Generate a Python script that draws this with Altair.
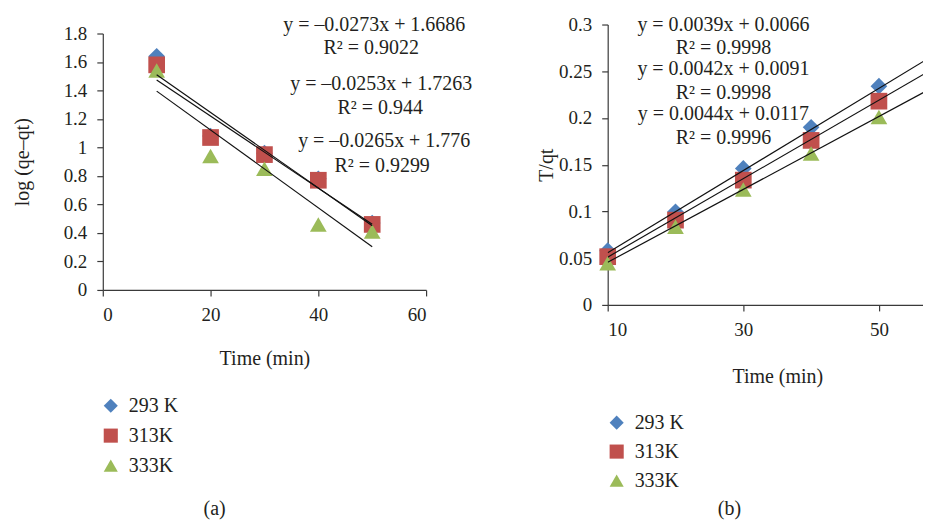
import altair as alt
import pandas as pd

# ---------------- data ----------------
time = [10, 20, 30, 40, 50]
series = ["293 K", "313K", "333K"]
colors = ["#4F81BD", "#C0504D", "#9BBB59"]
shapes = ["diamond", "square", "triangle-up"]

# (a) pseudo-first-order: log(qe-qt)
a_293 = [1.64, 1.08, 0.96, 0.78, 0.47]
a_313 = [1.58, 1.07, 0.95, 0.77, 0.46]
a_333 = [1.54, 0.94, 0.85, 0.46, 0.41]

# (b) pseudo-second-order: T/qt
b_293 = [0.058, 0.0996, 0.146, 0.190, 0.234]
b_313 = [0.0516, 0.0907, 0.1335, 0.176, 0.218]
b_333 = [0.0445, 0.0836, 0.1235, 0.162, 0.201]

# trendline coefficients (as printed)
a_slope = [-0.0265, -0.0253, -0.0273]
a_icpt = [1.776, 1.7263, 1.6686]
b_slope = [0.0044, 0.0042, 0.0039]
b_icpt = [0.0117, 0.0091, 0.0066]
a_line_x = [10, 50]
b_line_x = [10, 60]

a_eq = ["y = –0.0273x + 1.6686", "R² = 0.9022",
        "y = –0.0253x + 1.7263", "R² = 0.944",
        "y = –0.0265x + 1.776", "R² = 0.9299"]
b_eq = ["y = 0.0039x + 0.0066", "R² = 0.9998",
        "y = 0.0042x + 0.0091", "R² = 0.9998",
        "y = 0.0044x + 0.0117", "R² = 0.9996"]

a_ticks_x = [0, 20, 40, 60]
a_ticks_y = [0, 0.2, 0.4, 0.6, 0.8, 1, 1.2, 1.4, 1.6, 1.8]
b_ticks_x = [10, 30, 50]
b_ticks_y = [0, 0.05, 0.1, 0.15, 0.2, 0.25, 0.3]

# ---------------- layout (pixels) ----------------
FONT = "Liberation Serif"
TXT = "#231f20"
A_W, A_H, A_TOP = 324, 266, 9      # left plot drawn from y=9 to y=266 of its panel
B_W, B_H = 316, 281
a_eq_pos = [(272, 6), (269, 30), (279, 66), (278, 90), (282, 123), (280, 148)]
b_eq_pos = [(116, 6), (116, 30), (116, 51), (116, 75), (116, 96), (116, 120)]


def points_df(vals):
    rows = []
    for s, v in zip(series, vals):
        for t, y in zip(time, v):
            rows.append({"time": t, "value": y, "series": s})
    return pd.DataFrame(rows)


def lines_df(slopes, icpts, xs):
    rows = []
    for s, m, b in zip(series, slopes, icpts):
        for x in xs:
            rows.append({"time": x, "slope": m, "icpt": b, "series": s})
    return pd.DataFrame(rows)


def legend(lx, ly, rp):
    return alt.Legend(orient="none", legendX=lx, legendY=ly, title=None,
                      labelFont=FONT, labelFontSize=20, labelColor=TXT,
                      symbolSize=200, rowPadding=rp, labelOffset=8,
                      symbolStrokeWidth=0, symbolOpacity=1, padding=0)


def texts(lines, pos):
    out = []
    for t, (px, py) in zip(lines, pos):
        out.append(
            alt.Chart(pd.DataFrame({"t": [t]}))
            .mark_text(font=FONT, fontSize=20, color=TXT, align="center",
                       baseline="alphabetic")
            .encode(x=alt.value(px), y=alt.value(py), text="t:N")
        )
    return out


def panel(vals, slopes, icpts, line_x, xscale, yscale, xaxis, yaxis, w, h,
          leg, eqs, eq_pos, tag, tag_pos):
    x_enc = alt.X("time:Q", scale=xscale, axis=xaxis)
    y_enc = alt.Y("value:Q", scale=yscale, axis=yaxis)
    pts = alt.Chart(points_df(vals)).mark_point(
        filled=True, opacity=1, size=280, strokeWidth=0
    ).encode(
        x=x_enc, y=y_enc,
        color=alt.Color("series:N", scale=alt.Scale(domain=series, range=colors),
                        legend=leg),
        shape=alt.Shape("series:N", scale=alt.Scale(domain=series, range=shapes),
                        legend=leg),
    )
    lns = alt.Chart(lines_df(slopes, icpts, line_x)).transform_calculate(
        value="datum.slope * datum.time + datum.icpt"
    ).mark_line(color="#111111", strokeWidth=1.2, clip=True).encode(
        x=x_enc, y=y_enc, detail="series:N"
    )
    tag_txt = alt.Chart(pd.DataFrame({"t": [tag]})).mark_text(
        font=FONT, fontSize=20, color=TXT, align="center", baseline="middle"
    ).encode(x=alt.value(tag_pos[0]), y=alt.value(tag_pos[1]), text="t:N")
    return alt.layer(pts, lns, *texts(eqs, eq_pos), tag_txt).properties(
        width=w, height=h
    )


a_axis_x = alt.Axis(values=a_ticks_x, title="Time (min)", titlePadding=24, format=".2~f")
a_axis_y = alt.Axis(values=a_ticks_y, title="log (qe–qt)", titlePadding=31, format=".2~f")
b_axis_x = alt.Axis(values=b_ticks_x, title="Time (min)", titlePadding=27, titleX=170,
                    format=".2~f")
b_axis_y = alt.Axis(values=b_ticks_y, title="T/qt", titlePadding=2, format=".2~f")

a_xscale = alt.Scale(domain=[0, 60], nice=False, zero=False)
a_yscale = alt.Scale(domain=[0, 1.8], nice=False, range=[A_H, A_TOP])
b_xscale = alt.Scale(domain=[10, 56.5], nice=False, zero=False)
b_yscale = alt.Scale(domain=[0, 0.3], nice=False)

left = panel([a_293, a_313, a_333], a_slope, a_icpt, a_line_x, a_xscale, a_yscale,
             a_axis_x, a_axis_y, A_W, A_H, legend(-2, 372, 10), a_eq, a_eq_pos,
             "(a)", (112, 486))
right = panel([b_293, b_313, b_333], b_slope, b_icpt, b_line_x, b_xscale, b_yscale,
              b_axis_x, b_axis_y, B_W, B_H, legend(-1, 389, 9), b_eq, b_eq_pos,
              "(b)", (122, 486))

chart = (
    alt.hconcat(left, right, spacing=63)
    .resolve_scale(color="independent", shape="independent")
    .properties(padding={"left": 4, "top": 6, "right": 0, "bottom": 0},
                background="white")
    .configure_view(strokeWidth=0)
    .configure_axis(
        grid=False, domainColor="#3a3a3a", tickColor="#3a3a3a", domainWidth=1.2,
        tickWidth=1.2, tickSize=6, labelPadding=10,
        labelFont=FONT, labelFontSize=19, labelColor=TXT,
        titleFont=FONT, titleFontSize=20, titleFontWeight="normal", titleColor=TXT,
    )
)

chart.save("out.html", embed_options={"renderer": "svg", "actions": False})
